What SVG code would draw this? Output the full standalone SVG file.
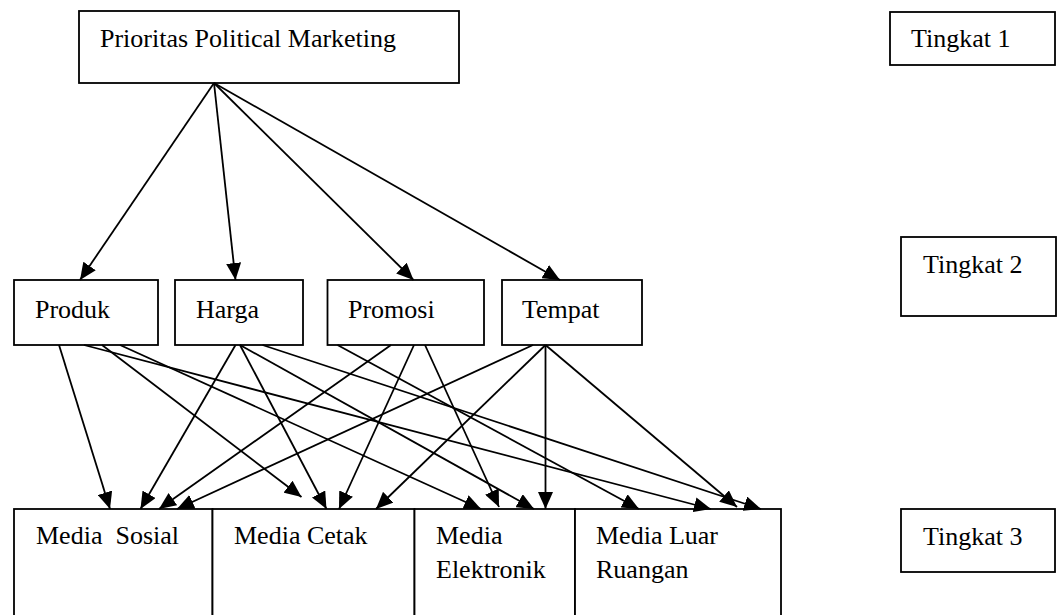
<svg xmlns="http://www.w3.org/2000/svg" width="1061" height="615" viewBox="0 0 1061 615">
  <style>
    .box { fill: #ffffff; stroke: #000000; stroke-width: 1.8; }
    .lbl { font-family: "Liberation Serif", "Times New Roman", serif; font-size: 26px; fill: #000000; white-space: pre; }
    .edge { stroke: #000000; stroke-width: 1.8; fill: none; marker-end: url(#arrow); }
  </style>
  <defs>
    <marker id="arrow" markerUnits="userSpaceOnUse" markerWidth="18" markerHeight="15" refX="17" refY="7.5" orient="auto">
      <path d="M0,0 L17,7.5 L0,15 z" fill="#000000"/>
    </marker>
  </defs>
  <rect x="0" y="0" width="1061" height="615" fill="#ffffff"/>

  <!-- level labels -->
  <g id="tingkat1">
    <rect class="box" x="890" y="12" width="165" height="53"/>
    <text class="lbl" x="911" y="47">Tingkat 1</text>
  </g>
  <g id="tingkat2">
    <rect class="box" x="901" y="237" width="155" height="79"/>
    <text class="lbl" x="923" y="273">Tingkat 2</text>
  </g>
  <g id="tingkat3">
    <rect class="box" x="901" y="509" width="154" height="63"/>
    <text class="lbl" x="923" y="545">Tingkat 3</text>
  </g>

  <!-- goal -->
  <g id="prioritas">
    <rect class="box" x="79" y="11" width="380" height="72"/>
    <text class="lbl" x="100" y="47">Prioritas Political Marketing</text>
  </g>

  <!-- criteria -->
  <g id="produk">
    <rect class="box" x="14" y="280" width="144" height="65"/>
    <text class="lbl" x="35" y="318">Produk</text>
  </g>
  <g id="harga">
    <rect class="box" x="175" y="280" width="128" height="65"/>
    <text class="lbl" x="196" y="318">Harga</text>
  </g>
  <g id="promosi">
    <rect class="box" x="327.5" y="280" width="156.5" height="65"/>
    <text class="lbl" x="348" y="318">Promosi</text>
  </g>
  <g id="tempat">
    <rect class="box" x="502" y="280" width="140" height="65"/>
    <text class="lbl" x="522" y="318">Tempat</text>
  </g>

  <!-- alternatives -->
  <g id="media-sosial">
    <rect class="box" x="14" y="509" width="198.5" height="115"/>
    <text class="lbl" x="36" y="544">Media  Sosial</text>
  </g>
  <g id="media-cetak">
    <rect class="box" x="212.5" y="509" width="202" height="115"/>
    <text class="lbl" x="234" y="544">Media Cetak</text>
  </g>
  <g id="media-elektronik">
    <rect class="box" x="414.5" y="509" width="160.5" height="115"/>
    <text class="lbl" x="436" y="544">Media</text>
    <text class="lbl" x="436" y="578">Elektronik</text>
  </g>
  <g id="media-luar-ruangan">
    <rect class="box" x="575" y="509" width="206" height="115"/>
    <text class="lbl" x="596" y="544">Media Luar</text>
    <text class="lbl" x="596" y="578">Ruangan</text>
  </g>

  <g id="connectors">
    <!-- goal to criteria -->
    <line class="edge" x1="214" y1="83" x2="80" y2="280"/>
    <line class="edge" x1="214" y1="83" x2="235.5" y2="280"/>
    <line class="edge" x1="214" y1="83" x2="413.5" y2="280"/>
    <line class="edge" x1="214" y1="83" x2="560" y2="280"/>

    <!-- Produk -->
    <line class="edge" x1="59" y1="345" x2="110" y2="509"/>
    <line class="edge" x1="102" y1="345" x2="301.5" y2="497"/>
    <line class="edge" x1="120" y1="345" x2="481" y2="509"/>
    <line class="edge" x1="84" y1="345" x2="711" y2="509"/>

    <!-- Harga -->
    <line class="edge" x1="235.5" y1="345" x2="140.5" y2="509"/>
    <line class="edge" x1="240" y1="345" x2="326.5" y2="509"/>
    <line class="edge" x1="240" y1="345" x2="534" y2="509"/>
    <line class="edge" x1="262.5" y1="345" x2="761" y2="509"/>

    <!-- Promosi -->
    <line class="edge" x1="391" y1="345" x2="159" y2="509"/>
    <line class="edge" x1="414" y1="345" x2="339" y2="509"/>
    <line class="edge" x1="425" y1="345" x2="499" y2="507"/>
    <line class="edge" x1="337.5" y1="345" x2="639" y2="509"/>

    <!-- Tempat -->
    <line class="edge" x1="533" y1="345" x2="177" y2="509"/>
    <line class="edge" x1="545.5" y1="345" x2="376" y2="509"/>
    <line class="edge" x1="545.5" y1="345" x2="545.5" y2="509"/>
    <line class="edge" x1="545.5" y1="345" x2="737" y2="507"/>
  </g>
</svg>
